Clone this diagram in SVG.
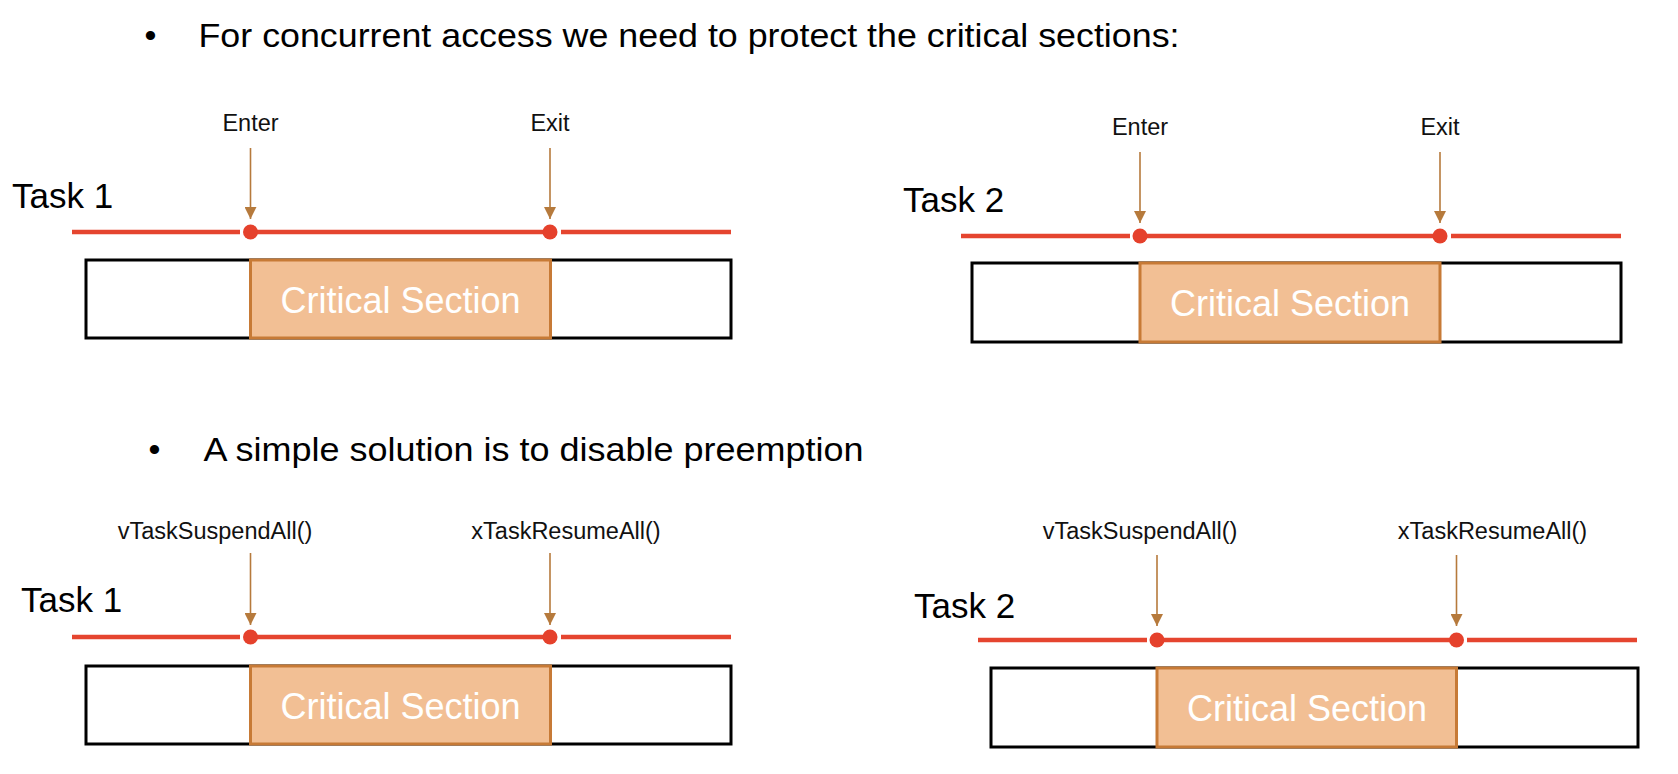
<svg xmlns="http://www.w3.org/2000/svg" width="1678" height="774" viewBox="0 0 1678 774">
<defs>
<style>
.bul{font-family:"Liberation Sans",Arial,sans-serif;font-size:34px;fill:#000}
.task{font-family:"Liberation Sans",Arial,sans-serif;font-size:35px;fill:#000}
.lbl{font-family:"Liberation Sans",Arial,sans-serif;font-size:23.5px;fill:#111;text-anchor:middle}
.cst{font-family:"Liberation Sans",Arial,sans-serif;font-size:36px;fill:#fff;text-anchor:middle}
.box{fill:#fff;stroke:#000;stroke-width:3}
.cs{fill:#f2bf94;stroke:#c77a36;stroke-width:3}
.tl{stroke:#e5452f;stroke-width:4.5;fill:none}
.dot{fill:#e5412c}
.arr{stroke:#b67a3c;stroke-width:1.6;fill:none}
</style>
<marker id="ah" viewBox="0 0 12 12" refX="12" refY="6" markerWidth="12" markerHeight="12" markerUnits="userSpaceOnUse" orient="auto">
<path d="M0,0 L12,6 L0,12 Z" fill="#b67a3c"/>
</marker>
</defs>
<rect width="1678" height="774" fill="#fff"/>

<g id="bullet1">
<text class="bul" x="144.5" y="47">•</text>
<text class="bul" x="198.5" y="47" textLength="981" lengthAdjust="spacingAndGlyphs">For concurrent access we need to protect the critical sections:</text>
</g>
<g id="bullet2">
<text class="bul" x="148.5" y="461">•</text>
<text class="bul" x="203.5" y="461" textLength="660" lengthAdjust="spacingAndGlyphs">A simple solution is to disable preemption</text>
</g>

<!-- Panel top-left -->
<g id="task1-top">
<text class="task" x="12" y="208">Task 1</text>
<rect class="box" x="86" y="260" width="645" height="78"/>
<rect class="cs" x="250.5" y="260" width="300" height="78"/>
<text class="cst" x="400.5" y="313">Critical Section</text>
<line class="tl" x1="72" y1="232" x2="240" y2="232"/>
<line class="tl" x1="250.5" y1="232" x2="550" y2="232"/>
<line class="tl" x1="561" y1="232" x2="731" y2="232"/>
<circle class="dot" cx="250.5" cy="232" r="7.5"/>
<circle class="dot" cx="550" cy="232" r="7.5"/>
<text class="lbl" x="250.5" y="131">Enter</text>
<text class="lbl" x="550" y="131">Exit</text>
</g>

<!-- Panel top-right -->
<g id="task2-top">
<text class="task" x="903" y="212">Task 2</text>
<rect class="box" x="972" y="263" width="649" height="79"/>
<rect class="cs" x="1140" y="263" width="300" height="79"/>
<text class="cst" x="1290" y="316">Critical Section</text>
<line class="tl" x1="961" y1="236" x2="1130" y2="236"/>
<line class="tl" x1="1140" y1="236" x2="1440" y2="236"/>
<line class="tl" x1="1451" y1="236" x2="1621" y2="236"/>
<circle class="dot" cx="1140" cy="236" r="7.5"/>
<circle class="dot" cx="1440" cy="236" r="7.5"/>
<text class="lbl" x="1140" y="135">Enter</text>
<text class="lbl" x="1440" y="135">Exit</text>
</g>

<!-- Panel bottom-left -->
<g id="task1-bottom">
<text class="task" x="21" y="612">Task 1</text>
<rect class="box" x="86" y="666" width="645" height="78"/>
<rect class="cs" x="250.5" y="666" width="300" height="78"/>
<text class="cst" x="400.5" y="719">Critical Section</text>
<line class="tl" x1="72" y1="637" x2="240" y2="637"/>
<line class="tl" x1="250.5" y1="637" x2="550" y2="637"/>
<line class="tl" x1="561" y1="637" x2="731" y2="637"/>
<circle class="dot" cx="250.5" cy="637" r="7.5"/>
<circle class="dot" cx="550" cy="637" r="7.5"/>
<text class="lbl" x="215" y="539">vTaskSuspendAll()</text>
<text class="lbl" x="566" y="539">xTaskResumeAll()</text>
</g>

<!-- Panel bottom-right -->
<g id="task2-bottom">
<text class="task" x="914" y="618">Task 2</text>
<rect class="box" x="991" y="668" width="647" height="79"/>
<rect class="cs" x="1157" y="668" width="299.5" height="79"/>
<text class="cst" x="1307" y="721">Critical Section</text>
<line class="tl" x1="978" y1="640" x2="1147" y2="640"/>
<line class="tl" x1="1157" y1="640" x2="1456.5" y2="640"/>
<line class="tl" x1="1467" y1="640" x2="1637" y2="640"/>
<circle class="dot" cx="1157" cy="640" r="7.5"/>
<circle class="dot" cx="1456.5" cy="640" r="7.5"/>
<text class="lbl" x="1140" y="539">vTaskSuspendAll()</text>
<text class="lbl" x="1492.5" y="539">xTaskResumeAll()</text>
</g>

<g id="connectors">
<line class="arr" x1="250.5" y1="148" x2="250.5" y2="219" marker-end="url(#ah)"/>
<line class="arr" x1="550" y1="148" x2="550" y2="219" marker-end="url(#ah)"/>
<line class="arr" x1="1140" y1="152" x2="1140" y2="223" marker-end="url(#ah)"/>
<line class="arr" x1="1440" y1="152" x2="1440" y2="223" marker-end="url(#ah)"/>
<line class="arr" x1="250.5" y1="553" x2="250.5" y2="625" marker-end="url(#ah)"/>
<line class="arr" x1="550" y1="553" x2="550" y2="625" marker-end="url(#ah)"/>
<line class="arr" x1="1157" y1="555" x2="1157" y2="626" marker-end="url(#ah)"/>
<line class="arr" x1="1456.5" y1="555" x2="1456.5" y2="626" marker-end="url(#ah)"/>
</g>
</svg>
